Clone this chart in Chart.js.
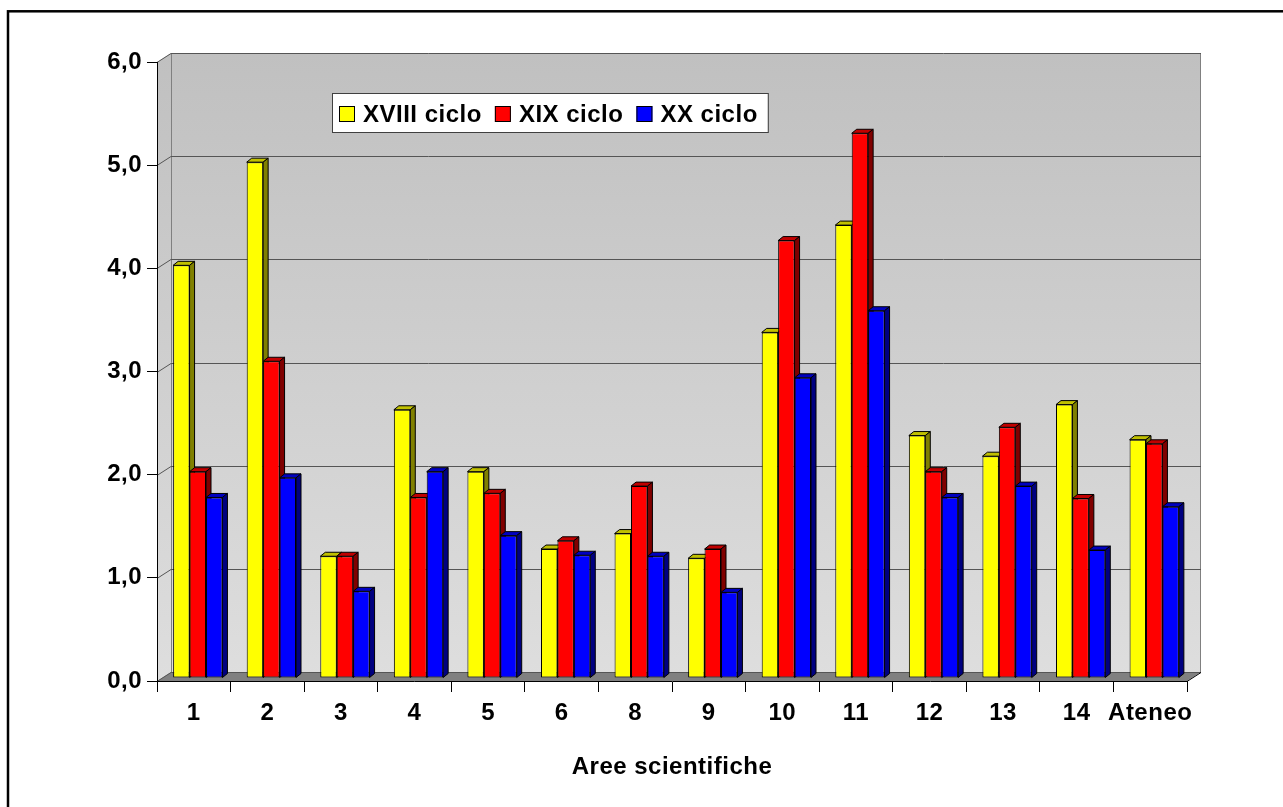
<!DOCTYPE html>
<html>
<head>
<meta charset="utf-8">
<title>Aree scientifiche</title>
<script src="https://cdn.jsdelivr.net/npm/chart.js@4.4.0/dist/chart.umd.min.js"></script>
<style>
  html, body { margin: 0; padding: 0; background: #fff; }
  #wrap { width: 1283px; height: 807px; }
</style>
</head>
<body>
<div id="wrap"><canvas id="grafico" width="1283" height="807"></canvas></div>
<script>
const aree = ['1', '2', '3', '4', '5', '6', '8', '9', '10', '11', '12', '13', '14', 'Ateneo'];
const ciclo18 = [4.00, 5.00, 1.18, 2.60, 2.00, 1.25, 1.40, 1.16, 3.35, 4.39, 2.35, 2.15, 2.65, 2.31];
const ciclo19 = [2.00, 3.07, 1.18, 1.75, 1.79, 1.33, 1.86, 1.25, 4.24, 5.28, 2.00, 2.43, 1.74, 2.27];
const ciclo20 = [1.75, 1.94, 0.84, 2.00, 1.38, 1.19, 1.18, 0.83, 2.91, 3.56, 1.75, 1.86, 1.24, 1.66];
const nomiCicli = ['XVIII ciclo', 'XIX ciclo', 'XX ciclo'];

const FONT = '"Liberation Sans", Arial, sans-serif';
const SPAZIO_LETTERE = '0.5px';

// profondità delle pareti e delle barre (effetto 3D)
const PROF_X = 14, PROF_Y = -9;
const BAR_X = 5, BAR_Y = -4;
const SPOSTA_X = 4, SPOSTA_Y = -3; // le barre stanno a metà del pavimento

const coloreLato = ['#808000', '#800000', '#000080'];
const coloreSopra = ['#c0c000', '#c00000', '#0000c0'];

// pareti, pavimento, griglia sulla parete di fondo
const pareti = {
    id: 'pareti',
    beforeDraw(chart) {
        const { ctx, chartArea: a, scales: { y } } = chart;
        const top = y.getPixelForValue(y.max);
        const base = y.getPixelForValue(0);

        // testo un po' più largo, come nel foglio originale
        ctx.letterSpacing = SPAZIO_LETTERE;

        ctx.save();

        // cornice esterna
        ctx.strokeStyle = '#000';
        ctx.lineWidth = 2.5;
        ctx.strokeRect(8, 11.3, 1400, 1000);

        const grad = ctx.createLinearGradient(0, top + PROF_Y, 0, base);
        grad.addColorStop(0, '#c0c0c0');
        grad.addColorStop(1, '#dedede');
        ctx.fillStyle = grad;

        // parete sinistra
        ctx.beginPath();
        ctx.moveTo(a.left, top);
        ctx.lineTo(a.left + PROF_X, top + PROF_Y);
        ctx.lineTo(a.left + PROF_X, base + PROF_Y);
        ctx.lineTo(a.left, base);
        ctx.closePath();
        ctx.fill();

        // parete di fondo
        ctx.fillRect(a.left + PROF_X, top + PROF_Y, a.right - a.left, base - top);

        // pavimento
        ctx.fillStyle = '#808080';
        ctx.beginPath();
        ctx.moveTo(a.left, base);
        ctx.lineTo(a.left + PROF_X, base + PROF_Y);
        ctx.lineTo(a.right + PROF_X, base + PROF_Y);
        ctx.lineTo(a.right, base);
        ctx.closePath();
        ctx.fill();

        // bordi della parete di fondo
        ctx.strokeStyle = '#808080';
        ctx.lineWidth = 1;
        ctx.beginPath();
        ctx.moveTo(a.left + PROF_X + 0.5, top + PROF_Y);
        ctx.lineTo(a.left + PROF_X + 0.5, base + PROF_Y);
        ctx.moveTo(a.right + PROF_X - 0.5, top + PROF_Y);
        ctx.lineTo(a.right + PROF_X - 0.5, base + PROF_Y);
        ctx.stroke();

        // linee della griglia
        ctx.strokeStyle = '#555';
        y.ticks.forEach(t => {
            const py = Math.round(y.getPixelForValue(t.value)) + 0.5;
            ctx.beginPath();
            ctx.moveTo(a.left, py);
            ctx.lineTo(a.left + PROF_X, py + PROF_Y);
            ctx.lineTo(a.right + PROF_X, py + PROF_Y);
            ctx.stroke();
        });

        // spigolo destro del pavimento
        ctx.strokeStyle = '#000';
        ctx.beginPath();
        ctx.moveTo(a.right, base + 0.5);
        ctx.lineTo(a.right + PROF_X, base + PROF_Y + 0.5);
        ctx.stroke();

        ctx.restore();
    }
};

// barre con lato e faccia superiore; disegnate in ordine di serie
const barre3d = {
    id: 'barre3d',
    beforeDatasetDraw() {
        return false;
    },
    afterDatasetsDraw(chart) {
        const ctx = chart.ctx;
        ctx.save();
        ctx.translate(SPOSTA_X, SPOSTA_Y);
        ctx.lineWidth = 1;
        ctx.strokeStyle = '#000';
        chart.data.datasets.forEach((ds, i) => {
            const meta = chart.getDatasetMeta(i);
            meta.data.forEach(bar => {
                const { x, y, base, width } = bar.getProps(['x', 'y', 'base', 'width'], true);
                const l = x - width / 2, r = x + width / 2;

                ctx.fillStyle = coloreSopra[i];
                ctx.beginPath();
                ctx.moveTo(l, y);
                ctx.lineTo(l + BAR_X, y + BAR_Y);
                ctx.lineTo(r + BAR_X, y + BAR_Y);
                ctx.lineTo(r, y);
                ctx.closePath();
                ctx.fill();
                ctx.stroke();

                ctx.fillStyle = coloreLato[i];
                ctx.beginPath();
                ctx.moveTo(r, y);
                ctx.lineTo(r + BAR_X, y + BAR_Y);
                ctx.lineTo(r + BAR_X, base + BAR_Y);
                ctx.lineTo(r, base);
                ctx.closePath();
                ctx.fill();
                ctx.stroke();
            });
            meta.data.forEach(bar => bar.draw(ctx));
        });
        ctx.restore();
    }
};

// legenda in un riquadro bianco dentro il grafico
const legenda = {
    id: 'legenda',
    afterDraw(chart) {
        const ctx = chart.ctx;
        ctx.save();
        ctx.font = 'bold 24px ' + FONT;
        ctx.letterSpacing = SPAZIO_LETTERE;
        const boxX = 332, boxY = 93, boxH = 39;
        let w = 7;
        chart.data.datasets.forEach(ds => { w += 24 + ctx.measureText(ds.label).width + 13; });
        w += -3;
        ctx.fillStyle = '#fff';
        ctx.fillRect(boxX, boxY, w, boxH);
        ctx.strokeStyle = '#404040';
        ctx.lineWidth = 1;
        ctx.strokeRect(boxX + 0.5, boxY + 0.5, w, boxH);

        ctx.textBaseline = 'middle';
        let x = boxX + 7;
        chart.data.datasets.forEach(ds => {
            ctx.fillStyle = ds.backgroundColor;
            ctx.fillRect(x, 106, 16, 16);
            ctx.strokeStyle = '#000';
            ctx.strokeRect(x + 0.5, 106.5, 15, 15);
            ctx.fillStyle = '#000';
            ctx.fillText(ds.label, x + 24, 115);
            x += 24 + ctx.measureText(ds.label).width + 13;
        });
        ctx.restore();
    }
};

const data = {
    labels: aree,
    datasets: [
        { label: nomiCicli[0], data: ciclo18, backgroundColor: '#ffff00' },
        { label: nomiCicli[1], data: ciclo19, backgroundColor: '#ff0000' },
        { label: nomiCicli[2], data: ciclo20, backgroundColor: '#0000ff' }
    ]
};

const ctx = document.getElementById('grafico').getContext('2d');

const myChart = new Chart(ctx, {
    type: 'bar',
    data: data,
    plugins: [pareti, barre3d, legenda],
    options: {
        responsive: false,
        animation: false,
        events: [],
        layout: { padding: { top: 62, right: 96, left: 0, bottom: 0 } },
        datasets: {
            bar: {
                borderColor: '#000',
                borderWidth: 1,
                borderSkipped: false,
                categoryPercentage: 0.67,
                barPercentage: 1.0
            }
        },
        plugins: {
            legend: { display: false },
            tooltip: { enabled: false }
        },
        scales: {
            x: {
                grid: { display: true, drawOnChartArea: false, tickLength: 11, color: '#000', offset: true },
                border: { display: true, color: '#000', width: 1 },
                ticks: {
                    color: '#000',
                    padding: 7,
                    maxRotation: 0,
                    autoSkip: false,
                    font: { family: FONT, size: 24, weight: 'bold' }
                },
                title: {
                    display: true,
                    text: 'Aree scientifiche',
                    color: '#000',
                    padding: { top: 0, bottom: 25 },
                    font: { family: FONT, size: 24, weight: 'bold' }
                },
                afterFit(scale) {
                    scale.height = 126;
                    scale.paddingLeft = 0;
                    scale.paddingRight = 0;
                }
            },
            y: {
                min: 0,
                max: 6,
                grid: { display: true, drawOnChartArea: false, tickLength: 10, color: '#000' },
                border: { display: true, color: '#000', width: 1 },
                ticks: {
                    stepSize: 1,
                    color: '#000',
                    padding: 5,
                    font: { family: FONT, size: 24, weight: 'bold' },
                    callback: function(value) {
                        return value.toFixed(1).replace('.', ',');
                    }
                },
                afterFit(scale) {
                    scale.width = 157;
                    scale.paddingTop = 0;
                    scale.paddingBottom = 0;
                }
            }
        }
    }
});
</script>
</body>
</html>
